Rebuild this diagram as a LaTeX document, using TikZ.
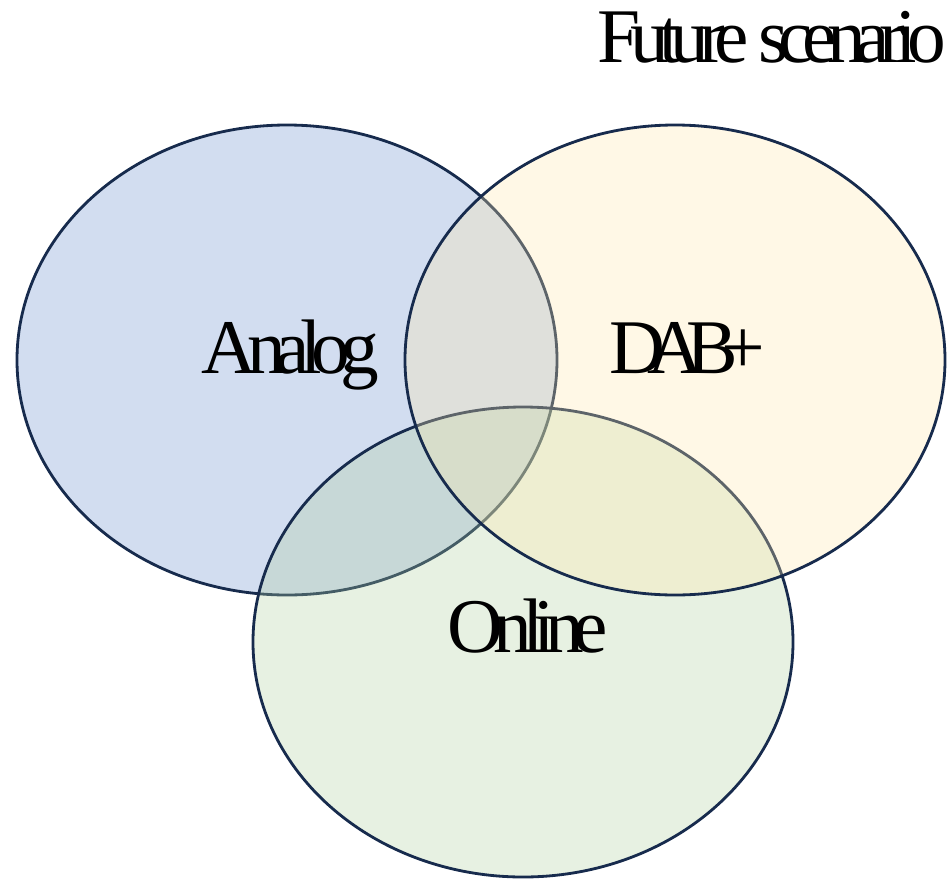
\documentclass[tikz,border=0pt]{standalone}
\usepackage{fontspec}
\usepackage{tikz}
\usetikzlibrary{shapes.geometric, positioning, calc}
\newfontfamily\tightserif{Liberation Serif}[LetterSpace=-13]
\newfontfamily\tighterserif{Liberation Serif}[LetterSpace=-22]
\definecolor{rimblue}{RGB}{23,43,77}
\definecolor{analogfill}{RGB}{105,142,205}
\definecolor{dabfill}{RGB}{255,232,172}
\definecolor{onlinefill}{RGB}{175,208,158}
\tikzset{
  circlebox/.style={
    ellipse, minimum width=10.8cm, minimum height=9.4cm, inner sep=0pt,
    draw=rimblue, line width=1.6pt, fill opacity=0.3
  },
  setlabel/.style={
    anchor=base, inner sep=0pt, text=black,
    font=\tightserif\fontsize{44}{50}\selectfont
  }
}

\begin{document}
\begin{tikzpicture}

\useasboundingbox (0,0) rectangle (18.96,-17.6);

% Sets (Analog, Online, DAB+)
\node[circlebox, fill=analogfill] (analog) at (5.74,-7.2) {};
\node[circlebox, fill=onlinefill] (online) at (10.46,-12.84) {};
\node[circlebox, fill=dabfill] (dab) at (13.5,-7.2) {};

% Labels
\node[setlabel] (analoglabel) at (5.8,-7.46) {Analog};
\node[setlabel, font=\tighterserif\fontsize{44}{50}\selectfont] (dablabel) at (13.74,-7.46) {DAB+};
\node[setlabel] (onlinelabel) at (10.56,-13.04) {Online};

% Title
\node[setlabel, anchor=base east] (title) at (18.92,-1.24) {Future scenario};

\end{tikzpicture}
\end{document}
